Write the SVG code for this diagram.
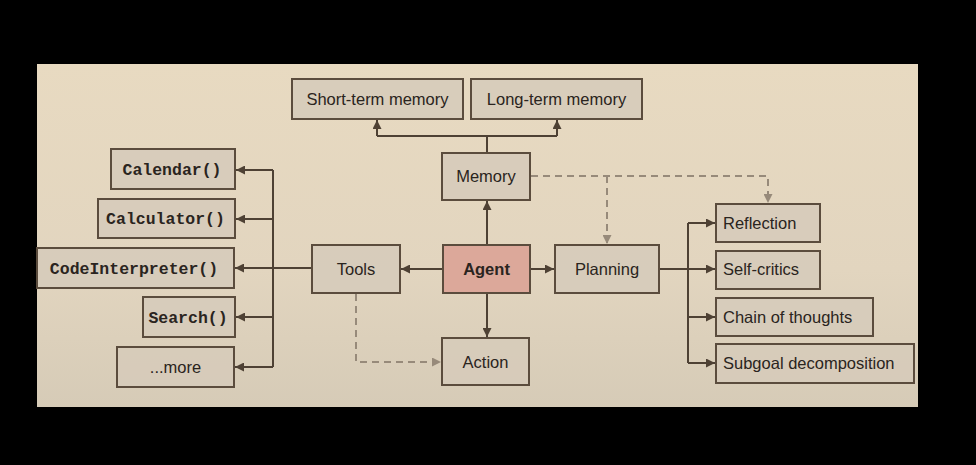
<svg xmlns="http://www.w3.org/2000/svg" width="976" height="465" viewBox="0 0 976 465">
<defs>
<linearGradient id="bg" x1="0" y1="0" x2="0" y2="1">
<stop offset="0" stop-color="#e8dac1"/>
<stop offset="0.6" stop-color="#e2d5bf"/>
<stop offset="1" stop-color="#d6cbb7"/>
</linearGradient>
<marker id="ah" viewBox="0 0 10 10" refX="10" refY="5" markerWidth="9" markerHeight="9" markerUnits="userSpaceOnUse" orient="auto">
<path d="M0,0 L10,5 L0,10 Z" fill="#4e4134"/>
</marker>
<marker id="ahd" viewBox="0 0 10 10" refX="10" refY="5" markerWidth="9" markerHeight="9" markerUnits="userSpaceOnUse" orient="auto">
<path d="M0,0 L10,5 L0,10 Z" fill="#978a7a"/>
</marker>
<style>
.box{fill:#d6cbba;fill-opacity:0.9;stroke:#5b4c3d;stroke-width:2}
.agent{fill:#dca89a;stroke:#5b4c3d;stroke-width:2}
.t{font-family:"Liberation Sans",Arial,sans-serif;font-size:16.5px;fill:#2a2420}
.m{font-family:"Liberation Mono","Courier New",monospace;font-size:16.5px;font-weight:bold;fill:#2a2420}
.c{fill:none;stroke:#4e4134;stroke-width:2}
.d{fill:none;stroke:#978a7a;stroke-width:2;stroke-dasharray:7 5}
</style>
</defs>
<rect x="0" y="0" width="976" height="465" fill="#000"/>
<rect x="37" y="64" width="881" height="343" fill="url(#bg)"/>

<g id="connectors">
<path class="c" d="M487,153 V136"/>
<path class="c" d="M377,136 H557"/>
<path class="c" d="M377,136 V120" marker-end="url(#ah)"/>
<path class="c" d="M557,136 V120" marker-end="url(#ah)"/>
<path class="c" d="M487,245 V201" marker-end="url(#ah)"/>
<path class="c" d="M443,269 H401" marker-end="url(#ah)"/>
<path class="c" d="M530,269 H554" marker-end="url(#ah)"/>
<path class="c" d="M487,293 V337" marker-end="url(#ah)"/>
<path class="c" d="M312,268 H273"/>
<path class="c" d="M273,170 V367"/>
<path class="c" d="M273,170 H236" marker-end="url(#ah)"/>
<path class="c" d="M273,219 H236" marker-end="url(#ah)"/>
<path class="c" d="M273,268 H235" marker-end="url(#ah)"/>
<path class="c" d="M273,317 H236" marker-end="url(#ah)"/>
<path class="c" d="M273,367 H235" marker-end="url(#ah)"/>
<path class="c" d="M659,269 H688"/>
<path class="c" d="M688,223 V363"/>
<path class="c" d="M688,223 H715" marker-end="url(#ah)"/>
<path class="c" d="M688,269 H715" marker-end="url(#ah)"/>
<path class="c" d="M688,317 H715" marker-end="url(#ah)"/>
<path class="c" d="M688,363 H715" marker-end="url(#ah)"/>
<path class="d" d="M531,176 H768 V203" marker-end="url(#ahd)"/>
<path class="d" d="M607,176 V244" marker-end="url(#ahd)"/>
<path class="d" d="M356,294 V362 H441" marker-end="url(#ahd)"/>
</g>

<g id="short-term-memory"><rect class="box" x="292" y="79" width="171" height="40"/><text class="t" x="377.5" y="105" text-anchor="middle">Short-term memory</text></g>
<g id="long-term-memory"><rect class="box" x="471" y="79" width="171" height="40"/><text class="t" x="556.5" y="105" text-anchor="middle">Long-term memory</text></g>
<g id="memory"><rect class="box" x="442" y="153" width="88" height="47"/><text class="t" x="486" y="182" text-anchor="middle">Memory</text></g>
<g id="calendar"><rect class="box" x="111" y="149" width="124" height="40"/><text class="m" x="172" y="175" text-anchor="middle">Calendar()</text></g>
<g id="calculator"><rect class="box" x="98" y="199" width="137" height="39"/><text class="m" x="165.5" y="224" text-anchor="middle">Calculator()</text></g>
<g id="code-interpreter"><rect class="box" x="37" y="248" width="197" height="40"/><text class="m" x="134" y="274" text-anchor="middle">CodeInterpreter()</text></g>
<g id="search"><rect class="box" x="143" y="297" width="92" height="40"/><text class="m" x="188" y="323" text-anchor="middle">Search()</text></g>
<g id="more"><rect class="box" x="117" y="347" width="117" height="40"/><text class="t" x="175.5" y="373" text-anchor="middle">...more</text></g>
<g id="tools"><rect class="box" x="312" y="245" width="88" height="48"/><text class="t" x="356" y="275" text-anchor="middle">Tools</text></g>
<g id="agent"><rect class="agent" x="443" y="245" width="87" height="48"/><text class="t" x="486.5" y="275" text-anchor="middle" font-weight="bold">Agent</text></g>
<g id="planning"><rect class="box" x="555" y="245" width="104" height="48"/><text class="t" x="607" y="275" text-anchor="middle">Planning</text></g>
<g id="action"><rect class="box" x="442" y="338" width="87" height="47"/><text class="t" x="485.5" y="368" text-anchor="middle">Action</text></g>
<g id="reflection"><rect class="box" x="716" y="204" width="104" height="38"/><text class="t" x="723" y="229">Reflection</text></g>
<g id="self-critics"><rect class="box" x="716" y="251" width="104" height="38"/><text class="t" x="723" y="275">Self-critics</text></g>
<g id="chain-of-thoughts"><rect class="box" x="716" y="298" width="157" height="38"/><text class="t" x="723" y="323">Chain of thoughts</text></g>
<g id="subgoal-decomposition"><rect class="box" x="716" y="344" width="198" height="39"/><text class="t" x="723" y="369">Subgoal decomposition</text></g>
</svg>
